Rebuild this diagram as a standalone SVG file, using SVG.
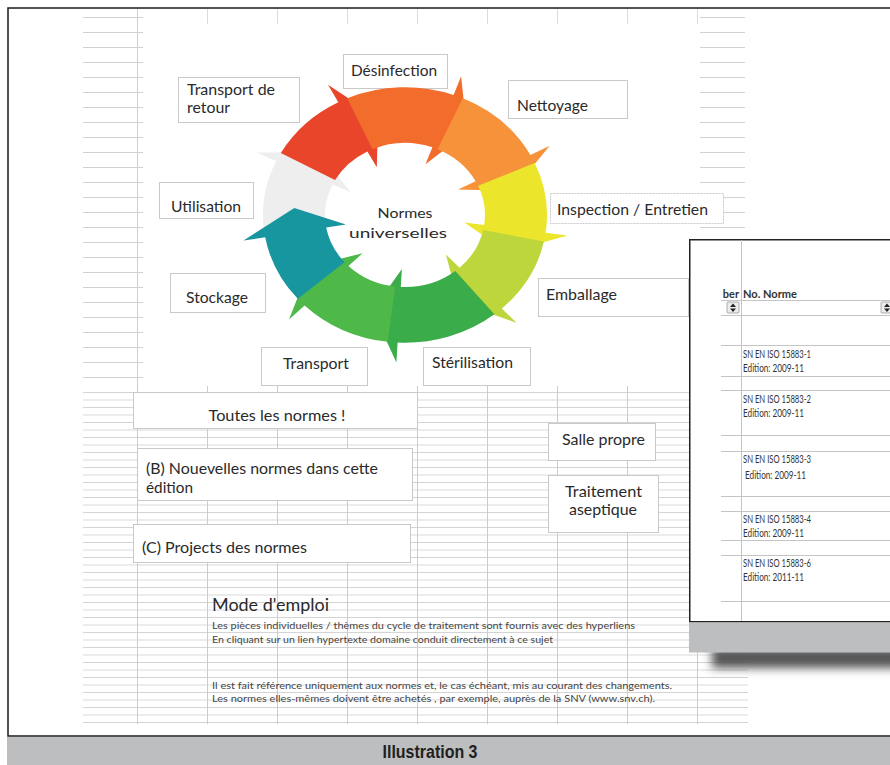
<svg xmlns="http://www.w3.org/2000/svg" width="890" height="765" viewBox="0 0 890 765">
<style>
.box{fill:#fff;stroke:#c9c9c9;stroke-width:1}
.lbl{font-family:Lato,"Open Sans","Liberation Sans",sans-serif;font-size:15px;fill:#2a2a2a}
.ctr{font-family:Lato,"Open Sans","Liberation Sans",sans-serif;font-size:14px;fill:#2a2a2a}
.sm{font-family:Lato,"Open Sans","Liberation Sans",sans-serif;font-size:9px;fill:#444}
.tbl{font-family:Lato,"Open Sans","Liberation Sans",sans-serif;font-size:11px;fill:#333}
.tbh{font-family:Lato,"Open Sans","Liberation Sans",sans-serif;font-size:11px;font-weight:bold;fill:#333}
.tl{stroke:#c4c4c4;stroke-width:1}
.tick{stroke:#dcdcdc;stroke-width:1}
.btn{fill:#ececec;stroke:#999;stroke-width:0.8}
</style>
<defs>
<pattern id="gUp" patternUnits="userSpaceOnUse" x="0" y="17" width="70" height="15">
<rect x="0" y="0" width="70" height="1" fill="#d2d2d2"/>
</pattern>
<pattern id="gLow" patternUnits="userSpaceOnUse" x="137" y="392" width="70" height="15">
<rect x="0" y="0" width="70" height="1" fill="#d4d4d4"/>
<rect x="0" y="7.5" width="70" height="1" fill="#dadada"/>
<rect x="0" y="0" width="1" height="15" fill="#cccccc"/>
</pattern>
<filter id="blur" x="-20%" y="-100%" width="140%" height="300%">
<feGaussianBlur stdDeviation="5"/>
</filter>
</defs>

<rect x="0" y="0" width="890" height="765" fill="#fff"/>

<g id="sheet-grid">
<rect x="83" y="10" width="60" height="376" fill="url(#gUp)"/>
<rect x="700" y="10" width="45" height="222" fill="url(#gUp)"/>
<rect x="83" y="386" width="665" height="338" fill="url(#gLow)"/>
<line x1="137.5" y1="9" x2="137.5" y2="386" stroke="#cfcfcf"/>
<line class="tick" x1="207.5" y1="9" x2="207.5" y2="24"/>
<line class="tick" x1="277.5" y1="9" x2="277.5" y2="24"/>
<line class="tick" x1="347.5" y1="9" x2="347.5" y2="24"/>
<line class="tick" x1="417.5" y1="9" x2="417.5" y2="24"/>
<line class="tick" x1="487.5" y1="9" x2="487.5" y2="24"/>
<line class="tick" x1="557.5" y1="9" x2="557.5" y2="24"/>
<line class="tick" x1="627.5" y1="9" x2="627.5" y2="24"/>
<line class="tick" x1="697.5" y1="9" x2="697.5" y2="24"/>
</g>

<g id="n-desinfection"><rect class="box" x="343.5" y="54.5" width="104" height="34"/><text class="lbl" x="351" y="76" textLength="86" lengthAdjust="spacingAndGlyphs">Désinfection</text></g>
<g id="n-retour"><rect class="box" x="178.5" y="77.5" width="121" height="45"/><text class="lbl" x="187" y="95" font-size="14" textLength="88" lengthAdjust="spacingAndGlyphs">Transport de</text><text class="lbl" x="187" y="113" font-size="14" textLength="43" lengthAdjust="spacingAndGlyphs">retour</text></g>
<g id="n-nettoyage"><rect class="box" x="508.5" y="80.5" width="119" height="38"/><text class="lbl" x="517" y="111" textLength="71" lengthAdjust="spacingAndGlyphs">Nettoyage</text></g>
<g id="n-utilisation"><rect class="box" x="159.5" y="182.5" width="94" height="36"/><text class="lbl" x="171" y="212" textLength="70" lengthAdjust="spacingAndGlyphs">Utilisation</text></g>
<g id="n-inspection"><rect class="box" x="550.5" y="193.5" width="173" height="30" stroke-dasharray="2 1"/><text class="lbl" x="557" y="215" textLength="151" lengthAdjust="spacingAndGlyphs">Inspection / Entretien</text></g>
<g id="n-stockage"><rect class="box" x="170.5" y="273.5" width="95" height="39"/><text class="lbl" x="186" y="303" textLength="62" lengthAdjust="spacingAndGlyphs">Stockage</text></g>
<g id="n-emballage"><rect class="box" x="538.5" y="278.5" width="150" height="38"/><text class="lbl" x="546" y="300" textLength="71" lengthAdjust="spacingAndGlyphs">Emballage</text></g>
<g id="n-transport"><rect class="box" x="261.5" y="347.5" width="106" height="38"/><text class="lbl" x="283" y="369" textLength="66" lengthAdjust="spacingAndGlyphs">Transport</text></g>
<g id="n-sterilisation"><rect class="box" x="423.5" y="347.5" width="107" height="38"/><text class="lbl" x="432" y="368" textLength="81" lengthAdjust="spacingAndGlyphs">Stérilisation</text></g>

<g id="cycle">
<path fill="#eeeeef" d="M 263.8 228.4 A 142 127.8 0 0 1 276.3 161.0 L 256.4 152.6 L 318.7 152.1 L 350.6 192.2 L 332.5 184.6 A 80 72 0 0 0 325.4 222.5 Z"/>
<path fill="#e9452b" d="M 280.8 153.0 A 142 127.8 0 0 1 338.3 102.2 L 328.0 84.7 L 378.1 118.1 L 376.8 167.3 L 367.4 151.4 A 80 72 0 0 0 335.0 180.1 Z"/>
<path fill="#f26c2c" d="M 347.2 98.3 A 142 127.8 0 0 1 453.6 94.9 L 461.1 76.3 L 467.1 132.2 L 425.5 164.3 L 432.4 147.3 A 80 72 0 0 0 372.5 149.2 Z"/>
<path fill="#f6923a" d="M 462.8 98.3 A 142 127.8 0 0 1 530.4 155.0 L 549.8 145.7 L 512.7 190.8 L 458.0 189.6 L 475.6 181.2 A 80 72 0 0 0 437.5 149.2 Z"/>
<path fill="#ebe62c" d="M 534.7 163.0 A 142 127.8 0 0 1 545.6 232.8 L 567.4 235.5 L 507.9 252.4 L 464.4 222.5 L 484.2 225.0 A 80 72 0 0 0 478.1 185.7 Z"/>
<path fill="#bdd63c" d="M 543.9 241.6 A 142 127.8 0 0 1 501.8 308.5 L 516.8 323.0 L 458.8 302.4 L 445.9 254.5 L 459.6 267.7 A 80 72 0 0 0 483.2 230.0 Z"/>
<path fill="#3bac4a" d="M 494.4 314.3 A 142 127.8 0 0 1 397.6 342.6 L 396.4 362.4 L 372.5 310.5 L 401.9 268.9 L 400.8 286.9 A 80 72 0 0 0 455.3 271.0 Z"/>
<path fill="#4eb848" d="M 387.7 341.8 A 142 127.8 0 0 1 304.6 305.4 L 289.0 319.4 L 309.9 266.4 L 362.6 253.2 L 348.4 265.9 A 80 72 0 0 0 395.2 286.5 Z"/>
<path fill="#1796a0" d="M 297.8 298.8 A 142 127.8 0 0 1 265.2 237.2 L 243.5 240.6 L 294.3 208.0 L 345.9 224.4 L 326.2 227.5 A 80 72 0 0 0 344.6 262.2 Z"/>
</g>
<g id="n-center"><text class="ctr" x="405" y="218" text-anchor="middle" textLength="55" lengthAdjust="spacingAndGlyphs">Normes</text><text class="ctr" x="398" y="238" text-anchor="middle" textLength="98" lengthAdjust="spacingAndGlyphs">universelles</text></g>

<g id="n-toutes"><rect class="box" x="133.5" y="392.5" width="284" height="36"/><text class="lbl" x="277" y="421" text-anchor="middle" textLength="137" lengthAdjust="spacingAndGlyphs">Toutes les normes !</text></g>
<g id="n-nouvelles"><rect class="box" x="137.5" y="448.5" width="275" height="52"/><text class="lbl" x="146" y="474" textLength="232" lengthAdjust="spacingAndGlyphs">(B) Nouevelles normes dans cette</text><text class="lbl" x="146" y="493" textLength="47" lengthAdjust="spacingAndGlyphs">édition</text></g>
<g id="n-projects"><rect class="box" x="133.5" y="524.5" width="277" height="38"/><text class="lbl" x="142" y="553" textLength="165" lengthAdjust="spacingAndGlyphs">(C) Projects des normes</text></g>
<g id="n-salle"><rect class="box" x="548.5" y="423.5" width="107" height="37"/><text class="lbl" x="562" y="445" textLength="83" lengthAdjust="spacingAndGlyphs">Salle propre</text></g>
<g id="n-aseptique"><rect class="box" x="548.5" y="475.5" width="110" height="57"/><text class="lbl" x="565" y="497" textLength="77" lengthAdjust="spacingAndGlyphs">Traitement</text><text class="lbl" x="569" y="515" textLength="68" lengthAdjust="spacingAndGlyphs">aseptique</text></g>

<g id="n-mode">
<text x="212" y="611" font-family="Lato,'Open Sans',sans-serif" font-size="17" fill="#2a2a2a" textLength="117" lengthAdjust="spacingAndGlyphs">Mode d'emploi</text>
<text class="sm" x="212" y="629" textLength="423" lengthAdjust="spacingAndGlyphs">Les pièces individuelles / thèmes du cycle de traitement sont fournis avec des hyperliens</text>
<text class="sm" x="212" y="643" textLength="341" lengthAdjust="spacingAndGlyphs">En cliquant sur un lien hypertexte domaine conduit directement à ce sujet</text>
<text class="sm" x="212" y="689" textLength="460" lengthAdjust="spacingAndGlyphs">Il est fait référence uniquement aux normes et, le cas échéant, mis au courant des changements.</text>
<text class="sm" x="212" y="702" textLength="443" lengthAdjust="spacingAndGlyphs">Les normes elles-mêmes doivent être achetés , par exemple, auprès de la SNV (www.snv.ch).</text>
</g>

<g id="n-table">
<rect x="712" y="648" width="200" height="20" fill="#555" filter="url(#blur)"/>
<rect x="689.75" y="239.75" width="220" height="382" fill="#fff" stroke="#222" stroke-width="1.5"/>
<rect x="689" y="622.5" width="205" height="30" fill="#bcbec0"/>
<line class="tl" x1="741.5" y1="240" x2="741.5" y2="621"/>
<line class="tl" x1="721" y1="300.5" x2="890" y2="300.5"/>
<line class="tl" x1="721" y1="315.5" x2="890" y2="315.5"/>
<line class="tl" x1="721" y1="345.5" x2="890" y2="345.5"/>
<line class="tl" x1="721" y1="376.5" x2="890" y2="376.5"/>
<line class="tl" x1="721" y1="390.5" x2="890" y2="390.5"/>
<line class="tl" x1="721" y1="435.5" x2="890" y2="435.5"/>
<line class="tl" x1="721" y1="451.5" x2="890" y2="451.5"/>
<line class="tl" x1="721" y1="496.5" x2="890" y2="496.5"/>
<line class="tl" x1="721" y1="511.5" x2="890" y2="511.5"/>
<line class="tl" x1="721" y1="540.5" x2="890" y2="540.5"/>
<line class="tl" x1="721" y1="555.5" x2="890" y2="555.5"/>
<line class="tl" x1="721" y1="601.5" x2="890" y2="601.5"/>
<text class="tbh" x="739" y="298" text-anchor="end">ber</text>
<text class="tbh" x="743" y="298" textLength="54" lengthAdjust="spacingAndGlyphs">No. Norme</text>
<rect class="btn" x="727" y="302" width="12" height="11" rx="1"/>
<polygon points="730,307 733,303.5 736,307" fill="#222"/>
<polygon points="730,308.5 733,312 736,308.5" fill="#222"/>
<rect class="btn" x="881" y="302" width="12" height="11" rx="1"/>
<polygon points="884,307 887,303.5 890,307" fill="#222"/>
<polygon points="884,308.5 887,312 890,308.5" fill="#222"/>
<text class="tbl" x="743" y="358" textLength="68" lengthAdjust="spacingAndGlyphs">SN EN ISO 15883-1</text>
<text class="tbl" x="743" y="372" textLength="61" lengthAdjust="spacingAndGlyphs">Edition: 2009-11</text>
<text class="tbl" x="743" y="403" textLength="68" lengthAdjust="spacingAndGlyphs">SN EN ISO 15883-2</text>
<text class="tbl" x="743" y="417" textLength="61" lengthAdjust="spacingAndGlyphs">Edition: 2009-11</text>
<text class="tbl" x="743" y="463" textLength="68" lengthAdjust="spacingAndGlyphs">SN EN ISO 15883-3</text>
<text class="tbl" x="745" y="479" textLength="61" lengthAdjust="spacingAndGlyphs">Edition: 2009-11</text>
<text class="tbl" x="743" y="523" textLength="68" lengthAdjust="spacingAndGlyphs">SN EN ISO 15883-4</text>
<text class="tbl" x="743" y="537" textLength="61" lengthAdjust="spacingAndGlyphs">Edition: 2009-11</text>
<text class="tbl" x="743" y="567" textLength="68" lengthAdjust="spacingAndGlyphs">SN EN ISO 15883-6</text>
<text class="tbl" x="743" y="581" textLength="61" lengthAdjust="spacingAndGlyphs">Edition: 2011-11</text>
</g>

<rect x="8" y="8" width="900" height="728" fill="none" stroke="#1a1a1a" stroke-width="1.5"/>

<g id="caption">
<rect x="7" y="737" width="883" height="28" fill="#bcbec0"/>
<text x="430" y="758" text-anchor="middle" font-family="'Liberation Sans',Arial,sans-serif" font-weight="bold" font-size="18" fill="#231f20" textLength="95" lengthAdjust="spacingAndGlyphs">Illustration 3</text>
</g>
</svg>
